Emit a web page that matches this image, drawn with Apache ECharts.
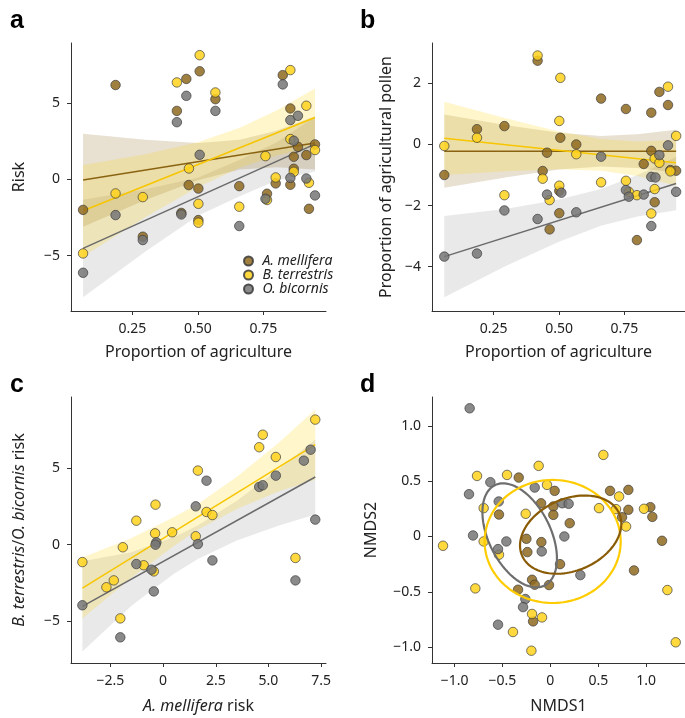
<!DOCTYPE html>
<html>
<head>
<meta charset="utf-8">
<script src="https://cdn.jsdelivr.net/npm/echarts@6/dist/echarts.min.js"></script>
<style>
  html, body { margin: 0; padding: 0; background: #fff; }
  #chart { width: 685px; height: 718px; }
</style>
</head>
<body>
<div id="chart"></div>
<script>
// ---------- panel a: risk vs proportion of agriculture ----------
const aBrown = [[0.062,-2.0],[0.186,6.2],[0.29,-3.76],[0.42,4.5],[0.437,-2.2],[0.456,6.6],[0.465,-0.37],[0.507,7.1],[0.502,-0.6],[0.502,-2.67],[0.567,5.27],[0.658,-0.44],[0.764,-0.94],[0.797,-0.26],[0.824,6.85],[0.853,4.66],[0.853,-0.35],[0.866,1.49],[0.882,2.14],[0.866,0.7],[0.914,1.6],[0.924,-1.93],[0.947,2.3]];
const aYellow = [[0.062,-4.86],[0.186,-0.92],[0.29,-1.16],[0.42,6.37],[0.466,0.72],[0.507,8.16],[0.502,-1.6],[0.502,-2.84],[0.567,5.71],[0.658,-1.79],[0.758,1.53],[0.764,-1.35],[0.797,0.13],[0.853,7.18],[0.853,2.65],[0.866,0.5],[0.914,4.84],[0.924,-0.22],[0.947,1.93]];
const aGrey = [[0.062,-6.13],[0.186,-2.34],[0.29,-3.98],[0.42,3.76],[0.437,-2.3],[0.456,5.49],[0.507,1.62],[0.567,4.5],[0.658,-3.06],[0.758,-1.27],[0.824,6.24],[0.853,3.9],[0.882,4.18],[0.866,2.54],[0.853,0.1],[0.914,0.06],[0.947,-1.05]];
const aBrownFit = [[0.062,-0.04],[0.947,2.4]];
const aYellowFit = [[0.062,-2.06],[0.947,4.07]];
const aGreyFit = [[0.062,-4.53],[0.947,2.32]];
const aBandX = [0.062,0.3,0.5,0.66,0.8,0.947];
const aBrownUp = [3.0,2.6,2.4,2.6,3.2,4.15];
const aBrownLo = [-3.1,-1.35,-0.05,0.65,0.8,0.65];
const aYellowUp = [0.94,1.66,2.45,3.39,4.53,5.97];
const aYellowLo = [-5.06,-2.48,-0.51,0.77,1.57,2.17];
const aGreyUp = [-1.33,-0.64,0.11,1.3,2.43,4.12];
const aGreyLo = [-7.73,-4.74,-2.39,-1.1,-0.07,0.52];

// ---------- panel b: agricultural pollen ----------
const bBrown = [[0.061,-1.0],[0.186,0.5],[0.291,0.6],[0.418,2.74],[0.4375,-0.87],[0.454,-0.27],[0.464,-2.78],[0.501,-1.52],[0.505,0.22],[0.501,-2.25],[0.566,0.0],[0.661,1.5],[0.756,1.16],[0.798,-3.13],[0.824,-0.64],[0.853,1.04],[0.853,-0.21],[0.866,-1.89],[0.884,1.72],[0.917,1.29],[0.926,-0.84],[0.948,-0.86]];
const bYellow = [[0.061,-0.05],[0.186,0.22],[0.291,-1.66],[0.418,2.91],[0.4375,-1.12],[0.464,-1.82],[0.505,2.18],[0.501,0.77],[0.501,-1.35],[0.566,-0.32],[0.661,-1.24],[0.756,-1.19],[0.767,-1.55],[0.798,-1.66],[0.853,-2.26],[0.866,-0.46],[0.866,-1.46],[0.884,-0.6],[0.917,1.89],[0.926,-0.88],[0.948,0.28]];
const bGrey = [[0.061,-3.67],[0.186,-3.57],[0.291,-2.16],[0.418,-2.44],[0.454,-1.64],[0.509,-1.58],[0.566,-2.22],[0.661,-0.4],[0.756,-1.49],[0.767,-1.71],[0.824,-1.64],[0.853,-1.06],[0.853,-2.67],[0.869,-1.08],[0.884,-0.35],[0.917,-0.03],[0.948,-1.55]];
const bBrownFit = [[0.061,-0.22],[0.948,-0.22]];
const bYellowFit = [[0.061,0.2],[0.948,-0.6]];
const bGreyFit = [[0.061,-3.67],[0.948,-1.28]];
const bBandX = [0.061,0.3,0.5,0.66,0.8,0.948];
const bBrownUp = [0.98,0.63,0.38,0.28,0.33,0.48];
const bBrownLo = [-1.42,-1.07,-0.82,-0.72,-0.77,-0.92];
const bYellowUp = [1.4,0.85,0.42,0.18,0.1,0.15];
const bYellowLo = [-1.0,-0.88,-0.81,-0.86,-1.03,-1.35];
const bGreyUp = [-2.34,-2.1,-1.8,-1.46,-1.0,-0.41];
const bGreyLo = [-5.0,-3.96,-3.18,-2.66,-2.36,-2.15];

// ---------- panel c: B. terrestris / O. bicornis risk vs A. mellifera risk ----------
const cYellow = [[-3.83,-1.14],[-2.69,-2.79],[-2.34,-2.34],[-2.03,-4.83],[-1.91,-0.17],[-1.27,1.57],[-0.92,-1.35],[-0.44,-1.75],[-0.36,2.62],[-0.38,0.74],[0.43,0.81],[1.55,0.55],[1.65,4.85],[2.06,2.14],[2.34,1.94],[4.56,6.38],[4.73,7.2],[5.35,5.74],[6.28,-0.87],[7.22,8.19]];
const cGrey = [[-3.83,-3.97],[-2.03,-6.07],[-1.27,-1.27],[-0.55,-1.64],[-0.44,-3.06],[-0.32,0.15],[-0.36,0.0],[1.55,2.51],[1.65,0.04],[2.06,4.19],[2.34,-1.03],[4.56,3.78],[4.73,3.89],[5.35,4.52],[6.28,-2.34],[6.68,5.5],[7.0,6.22],[7.22,1.64]];
const cYellowFit = [[-3.83,-2.84],[7.22,6.55]];
const cGreyFit = [[-3.83,-4.04],[7.22,4.43]];
const cBandX = [-3.83,-1.5,0.5,1.65,3.5,5.5,7.22];
const cYellowUp = [-0.84,0.44,1.79,2.67,4.44,6.69,8.85];
const cYellowLo = [-4.84,-2.16,-0.11,0.97,2.34,3.49,4.25];
const cGreyUp = [-1.09,-0.5,0.48,1.26,2.88,4.96,6.88];
const cGreyLo = [-6.99,-4.0,-1.92,-0.94,0.28,1.26,1.98];

// ---------- panel d: NMDS ----------
const dBrown = [[-0.33,0.532],[-0.536,0.198],[-0.097,0.3],[0.045,0.412],[0.031,0.271],[0.031,0.195],[0.202,0.12],[-0.25,-0.021],[-0.24,-0.141],[-0.094,-0.051],[-0.191,-0.391],[-0.163,-0.436],[-0.337,-0.481],[-0.014,-0.439],[0.101,-0.25],[-0.18,-0.767],[0.623,0.412],[0.814,0.421],[0.814,0.241],[0.748,0.174],[1.043,0.265],[1.064,0.177],[1.165,-0.039],[0.873,-0.307]];
const dYellow = [[-1.12,-0.084],[-0.765,0.547],[-0.696,0.256],[-0.783,-0.469],[-0.696,-0.045],[-0.536,-0.165],[-0.452,0.556],[-0.257,0.205],[-0.122,0.638],[-0.035,0.466],[-0.191,-0.7],[-0.087,-0.731],[-0.39,-0.863],[-0.198,-1.032],[0.553,0.737],[0.508,0.256],[0.717,0.361],[0.685,0.247],[0.79,0.09],[0.977,0.25],[1.221,-0.484],[1.308,-0.956]];
const dGrey = [[-0.842,1.158],[-0.849,0.382],[-0.807,0.009],[-0.626,0.49],[-0.539,0.316],[-0.459,-0.045],[-0.546,-0.114],[-0.163,0.442],[-0.09,-0.135],[0.125,0.3],[0.191,0.295],[0.146,0.0],[0.313,-0.349],[-0.261,-0.565],[-0.285,-0.638],[-0.546,-0.797]];
// ellipses: centre x, centre y, then two conjugate semi-axis vectors
const dBrownEllipse = [0.212,0.0165,0.507,0.19,0.149,-0.298];
const dYellowEllipse = [0.024,-0.045,0.71,0,0,0.556];
const dGreyEllipse = [-0.32,0.01,0.259,-0.453,-0.29,-0.124];

// ---------- ticks ----------
const aXTicks = [0.25,0.5,0.75], aXLabels = ['0.25','0.50','0.75'];
const aYTicks = [-5,0,5], aYLabels = ['\u22125','0','5'];
const bYTicks = [-4,-2,0,2], bYLabels = ['\u22124','\u22122','0','2'];
const cXTicks = [-2.5,0,2.5,5,7.5], cXLabels = ['\u22122.5','0','2.5','5.0','7.5'];
const cYTicks = [-5,0,5], cYLabels = ['\u22125','0','5'];
const dTicks = [-1,-0.5,0,0.5,1], dLabels = ['\u22121.0','\u22120.5','0','0.5','1.0'];

const species = ['A. mellifera','B. terrestris','O. bicornis'];

const FONT = 'Noto Sans';
const C = {
  brown: '#8f6a1e', yellow: '#ffd21c', grey: '#767676',
  brownLine: '#8a6312', yellowLine: '#f7c600', greyLine: '#6a6a6a',
  brownBand: 'rgba(140,105,30,0.2)', yellowBand: 'rgba(255,210,0,0.2)', greyBand: 'rgba(110,110,110,0.15)',
  brownEll: '#8a5b05', yellowEll: '#ffcc00', greyEll: '#6e6e6e'
};

function pick(ticks, labels) {
  return v => {
    const i = ticks.findIndex(t => Math.abs(t - v) < 1e-9);
    return i < 0 ? '' : labels[i];
  };
}

function axis(gi, min, max, ticks, labels, name, gap, rich) {
  return {
    type: 'value', gridIndex: gi, min, max,
    splitLine: { show: false },
    axisLine: { show: true, onZero: false, lineStyle: { color: '#333', width: 1 } },
    axisTick: { show: true, length: 4, lineStyle: { color: '#333' }, customValues: ticks },
    axisLabel: { fontSize: 14, color: '#222', fontFamily: FONT, margin: 11,
                 customValues: ticks, formatter: pick(ticks, labels) },
    name, nameLocation: 'middle', nameGap: gap, nameMoveOverlap: false,
    nameTextStyle: { fontSize: 16, color: '#222', fontFamily: FONT,
                     rich: rich || {} }
  };
}

function band(gi, xs, up, lo, color) {
  return {
    type: 'custom', xAxisIndex: gi, yAxisIndex: gi, silent: true, z: 1,
    data: xs.map((x, i) => [x, up[i], lo[i]]),
    encode: { x: 0, y: [1, 2] },
    renderItem: (params, api) => {
      if (params.dataIndex !== 0) return null;
      const top = xs.map((x, i) => api.coord([x, up[i]]));
      const bot = xs.map((x, i) => api.coord([x, lo[i]])).reverse();
      return { type: 'polygon', shape: { points: top.concat(bot) }, style: { fill: color } };
    }
  };
}

function fit(gi, data, color) {
  return {
    type: 'line', xAxisIndex: gi, yAxisIndex: gi, data, silent: true, z: 2,
    symbol: 'none', lineStyle: { color, width: 1.5 }
  };
}

function pts(gi, name, data, color) {
  return {
    type: 'scatter', name, xAxisIndex: gi, yAxisIndex: gi, data, z: 3,
    symbolSize: 9.5,
    itemStyle: { color, opacity: 0.85, borderColor: '#383838', borderWidth: 0.8 },
    emphasis: { disabled: true }
  };
}

function ellipse(gi, p, color) {
  return {
    type: 'custom', xAxisIndex: gi, yAxisIndex: gi, silent: true, z: 4,
    data: [[p[0], p[1]]],
    renderItem: (params, api) => {
      const points = [];
      for (let k = 0; k <= 120; k++) {
        const t = k / 120 * Math.PI * 2;
        points.push(api.coord([
          p[0] + p[2] * Math.cos(t) + p[4] * Math.sin(t),
          p[1] + p[3] * Math.cos(t) + p[5] * Math.sin(t)
        ]));
      }
      return { type: 'polyline', shape: { points }, style: { stroke: color, lineWidth: 2.2, fill: null } };
    }
  };
}

const chart = echarts.init(document.getElementById('chart'));

const italic = { i: { fontStyle: 'italic', fontSize: 16, color: '#222', fontFamily: FONT } };

const option = {
  animation: false,
  backgroundColor: '#fff',
  grid: [
    { left: 71, top: 43, width: 255, height: 268, outerBoundsMode: 'none' },
    { left: 432, top: 43, width: 253, height: 268, outerBoundsMode: 'none' },
    { left: 71, top: 397, width: 255, height: 266, outerBoundsMode: 'none' },
    { left: 432, top: 397, width: 253, height: 266, outerBoundsMode: 'none' }
  ],
  xAxis: [
    axis(0, 0.016, 0.989, aXTicks, aXLabels, 'Proportion of agriculture', 33),
    axis(1, 0.014, 0.982, aXTicks, aXLabels, 'Proportion of agriculture', 33),
    axis(2, -4.37, 7.73, cXTicks, cXLabels, '{i|A. mellifera} risk', 35, italic),
    axis(3, -1.235, 1.405, dTicks, dLabels, 'NMDS1', 35)
  ],
  yAxis: [
    axis(0, -8.64, 8.96, aYTicks, aYLabels, 'Risk', 44),
    axis(1, -5.45, 3.32, bYTicks, bYLabels, 'Proportion of agricultural pollen', 38),
    axis(2, -7.75, 9.67, cYTicks, cYLabels, '{i|B. terrestris}/{i|O. bicornis} risk', 44, italic),
    axis(3, -1.143, 1.26, dTicks, dLabels, 'NMDS2', 53)
  ],
  legend: {
    data: species, orient: 'vertical', left: 238, top: 249,
    itemWidth: 18, itemHeight: 9, itemGap: 0, icon: 'circle', selectedMode: false,
    textStyle: { fontSize: 14, fontStyle: 'italic', color: '#222', fontFamily: FONT, lineHeight: 14 }
  },
  graphic: [
    { type: 'text', left: 10, top: 9, style: { text: 'a', font: 'bold 25px "Liberation Sans"', fill: '#000' } },
    { type: 'text', left: 360, top: 9, style: { text: 'b', font: 'bold 25px "Liberation Sans"', fill: '#000' } },
    { type: 'text', left: 10, top: 373, style: { text: 'c', font: 'bold 25px "Liberation Sans"', fill: '#000' } },
    { type: 'text', left: 360, top: 373, style: { text: 'd', font: 'bold 25px "Liberation Sans"', fill: '#000' } }
  ],
  series: [
    band(0, aBandX, aGreyUp, aGreyLo, C.greyBand),
    band(0, aBandX, aBrownUp, aBrownLo, C.brownBand),
    band(0, aBandX, aYellowUp, aYellowLo, C.yellowBand),
    fit(0, aBrownFit, C.brownLine), fit(0, aYellowFit, C.yellowLine), fit(0, aGreyFit, C.greyLine),
    pts(0, species[0], aBrown, C.brown), pts(0, species[1], aYellow, C.yellow), pts(0, species[2], aGrey, C.grey),

    band(1, bBandX, bGreyUp, bGreyLo, C.greyBand),
    band(1, bBandX, bBrownUp, bBrownLo, C.brownBand),
    band(1, bBandX, bYellowUp, bYellowLo, C.yellowBand),
    fit(1, bBrownFit, C.brownLine), fit(1, bYellowFit, C.yellowLine), fit(1, bGreyFit, C.greyLine),
    pts(1, species[0], bBrown, C.brown), pts(1, species[1], bYellow, C.yellow), pts(1, species[2], bGrey, C.grey),

    band(2, cBandX, cGreyUp, cGreyLo, C.greyBand),
    band(2, cBandX, cYellowUp, cYellowLo, C.yellowBand),
    fit(2, cYellowFit, C.yellowLine), fit(2, cGreyFit, C.greyLine),
    pts(2, species[1], cYellow, C.yellow), pts(2, species[2], cGrey, C.grey),

    pts(3, species[0], dBrown, C.brown), pts(3, species[1], dYellow, C.yellow), pts(3, species[2], dGrey, C.grey),
    ellipse(3, dGreyEllipse, C.greyEll), ellipse(3, dYellowEllipse, C.yellowEll), ellipse(3, dBrownEllipse, C.brownEll)
  ]
};

chart.setOption(option);
</script>
</body>
</html>
